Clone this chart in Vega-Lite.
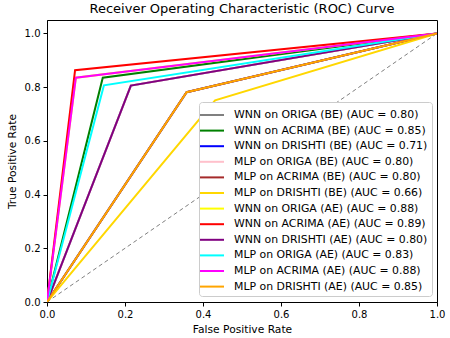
{
  "$schema": "https://vega.github.io/schema/vega-lite/v6.json",
  "width": 390,
  "height": 282,
  "autosize": {"type": "none"},
  "padding": {"left": 47, "top": 20, "right": 13, "bottom": 36},
  "background": "white",
  "config": {
    "font": "DejaVu Sans",
    "view": {"stroke": "#000000", "strokeWidth": 1},
    "axis": {"grid": false, "labelFont": "DejaVu Sans", "titleFont": "DejaVu Sans", "labelFontSize": 10, "titleFontSize": 10.7, "titleFontWeight": "normal", "labelColor": "#000", "titleColor": "#000", "domainColor": "#000", "tickColor": "#000", "tickSize": 4, "labelPadding": 3, "labelFlush": false, "labelOverlap": false}
  },
  "title": {"text": "Receiver Operating Characteristic (ROC) Curve", "font": "DejaVu Sans", "fontSize": 13, "fontWeight": "normal", "color": "#000", "offset": 4},
  "datasets": {
    "roc": [
      {"series": "WNN on ORIGA (BE) (AUC = 0.80)", "fpr": 0, "tpr": 0},
      {"series": "WNN on ORIGA (BE) (AUC = 0.80)", "fpr": 0.215, "tpr": 0.806},
      {"series": "WNN on ORIGA (BE) (AUC = 0.80)", "fpr": 1, "tpr": 1},
      {"series": "WNN on ACRIMA (BE) (AUC = 0.85)", "fpr": 0, "tpr": 0},
      {"series": "WNN on ACRIMA (BE) (AUC = 0.85)", "fpr": 0.143, "tpr": 0.835},
      {"series": "WNN on ACRIMA (BE) (AUC = 0.85)", "fpr": 1, "tpr": 1},
      {"series": "WNN on DRISHTI (BE) (AUC = 0.71)", "fpr": 0, "tpr": 0},
      {"series": "WNN on DRISHTI (BE) (AUC = 0.71)", "fpr": 0.358, "tpr": 0.781},
      {"series": "WNN on DRISHTI (BE) (AUC = 0.71)", "fpr": 1, "tpr": 1},
      {"series": "MLP on ORIGA (BE) (AUC = 0.80)", "fpr": 0, "tpr": 0},
      {"series": "MLP on ORIGA (BE) (AUC = 0.80)", "fpr": 0.215, "tpr": 0.806},
      {"series": "MLP on ORIGA (BE) (AUC = 0.80)", "fpr": 1, "tpr": 1},
      {"series": "MLP on ACRIMA (BE) (AUC = 0.80)", "fpr": 0, "tpr": 0},
      {"series": "MLP on ACRIMA (BE) (AUC = 0.80)", "fpr": 0.358, "tpr": 0.781},
      {"series": "MLP on ACRIMA (BE) (AUC = 0.80)", "fpr": 1, "tpr": 1},
      {"series": "MLP on DRISHTI (BE) (AUC = 0.66)", "fpr": 0, "tpr": 0},
      {"series": "MLP on DRISHTI (BE) (AUC = 0.66)", "fpr": 0.431, "tpr": 0.751},
      {"series": "MLP on DRISHTI (BE) (AUC = 0.66)", "fpr": 1, "tpr": 1},
      {"series": "WNN on ORIGA (AE) (AUC = 0.88)", "fpr": 0, "tpr": 0},
      {"series": "WNN on ORIGA (AE) (AUC = 0.88)", "fpr": 0.074, "tpr": 0.835},
      {"series": "WNN on ORIGA (AE) (AUC = 0.88)", "fpr": 1, "tpr": 1},
      {"series": "WNN on ACRIMA (AE) (AUC = 0.89)", "fpr": 0, "tpr": 0},
      {"series": "WNN on ACRIMA (AE) (AUC = 0.89)", "fpr": 0.072, "tpr": 0.863},
      {"series": "WNN on ACRIMA (AE) (AUC = 0.89)", "fpr": 1, "tpr": 1},
      {"series": "WNN on DRISHTI (AE) (AUC = 0.80)", "fpr": 0, "tpr": 0},
      {"series": "WNN on DRISHTI (AE) (AUC = 0.80)", "fpr": 0.215, "tpr": 0.806},
      {"series": "WNN on DRISHTI (AE) (AUC = 0.80)", "fpr": 1, "tpr": 1},
      {"series": "MLP on ORIGA (AE) (AUC = 0.83)", "fpr": 0, "tpr": 0},
      {"series": "MLP on ORIGA (AE) (AUC = 0.83)", "fpr": 0.146, "tpr": 0.807},
      {"series": "MLP on ORIGA (AE) (AUC = 0.83)", "fpr": 1, "tpr": 1},
      {"series": "MLP on ACRIMA (AE) (AUC = 0.88)", "fpr": 0, "tpr": 0},
      {"series": "MLP on ACRIMA (AE) (AUC = 0.88)", "fpr": 0.074, "tpr": 0.835},
      {"series": "MLP on ACRIMA (AE) (AUC = 0.88)", "fpr": 1, "tpr": 1},
      {"series": "MLP on DRISHTI (AE) (AUC = 0.85)", "fpr": 0, "tpr": 0},
      {"series": "MLP on DRISHTI (AE) (AUC = 0.85)", "fpr": 0.358, "tpr": 0.781},
      {"series": "MLP on DRISHTI (AE) (AUC = 0.85)", "fpr": 1, "tpr": 1}
    ],
    "diag": [
      {"fpr": 0, "tpr": 0},
      {"fpr": 1, "tpr": 1}
    ]
  },
  "layer": [
    {
      "data": {"name": "diag"},
      "mark": {"type": "line", "color": "gray", "strokeWidth": 1, "strokeDash": [4, 3]},
      "encoding": {
        "x": {"field": "fpr", "type": "quantitative", "scale": {"domain": [0, 1], "nice": false, "zero": false}},
        "y": {"field": "tpr", "type": "quantitative", "scale": {"domain": [0, 1.05], "nice": false, "zero": false}}
      }
    },
    {
      "data": {"name": "roc"},
      "mark": {"type": "line", "strokeWidth": 2, "clip": true},
      "encoding": {
        "x": {"field": "fpr", "type": "quantitative", "title": "False Positive Rate", "scale": {"domain": [0, 1], "nice": false, "zero": false}, "axis": {"values": [0, 0.2, 0.4, 0.6, 0.8, 1.0], "format": ".1f", "titlePadding": 5}},
        "y": {"field": "tpr", "type": "quantitative", "title": "True Positive Rate", "scale": {"domain": [0, 1.05], "nice": false, "zero": false}, "axis": {"values": [0, 0.2, 0.4, 0.6, 0.8, 1.0], "format": ".1f", "titlePadding": 7}},
        "color": {
          "field": "series",
          "type": "nominal",
          "scale": {
            "domain": [
              "WNN on ORIGA (BE) (AUC = 0.80)",
              "WNN on ACRIMA (BE) (AUC = 0.85)",
              "WNN on DRISHTI (BE) (AUC = 0.71)",
              "MLP on ORIGA (BE) (AUC = 0.80)",
              "MLP on ACRIMA (BE) (AUC = 0.80)",
              "MLP on DRISHTI (BE) (AUC = 0.66)",
              "WNN on ORIGA (AE) (AUC = 0.88)",
              "WNN on ACRIMA (AE) (AUC = 0.89)",
              "WNN on DRISHTI (AE) (AUC = 0.80)",
              "MLP on ORIGA (AE) (AUC = 0.83)",
              "MLP on ACRIMA (AE) (AUC = 0.88)",
              "MLP on DRISHTI (AE) (AUC = 0.85)"
            ],
            "range": ["gray", "green", "blue", "pink", "brown", "gold", "yellow", "red", "purple", "cyan", "magenta", "orange"]
          },
          "legend": {
            "title": null,
            "orient": "none",
            "legendX": 152,
            "legendY": 82,
            "symbolType": "M-1.5,0H1.5",
            "symbolSize": 256,
            "symbolStrokeWidth": 2,
            "symbolFillColor": "transparent",
            "labelFont": "DejaVu Sans",
            "labelFontSize": 10.9,
            "labelColor": "#000",
            "labelLimit": 300,
            "labelOffset": 13,
            "rowPadding": 1.6,
            "padding": 4,
            "fillColor": "white",
            "strokeColor": "#cccccc",
            "cornerRadius": 3
          }
        }
      }
    }
  ]
}
